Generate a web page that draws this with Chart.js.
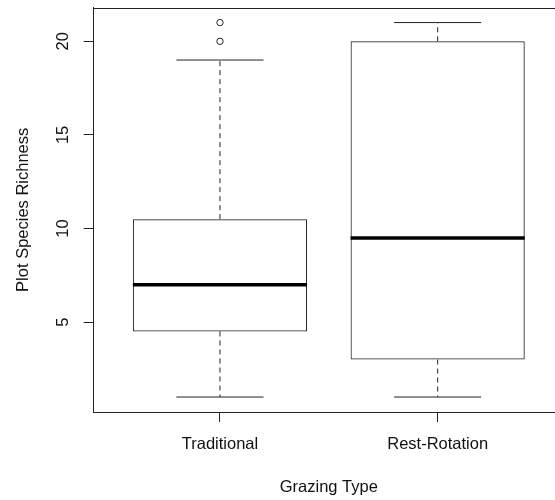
<!DOCTYPE html>
<html><head><meta charset="utf-8">
<script src="https://cdn.jsdelivr.net/npm/chart.js@4.4.1/dist/chart.umd.min.js"></script>
<style>html,body{margin:0;padding:0;background:#fff;overflow:hidden}#wrap{width:555px;height:500px;position:relative}</style>
</head><body><div id="wrap"><canvas id="c" width="555" height="500"></canvas></div>
<script>
const categories = ['Traditional', 'Rest-Rotation'];
const positions = [1, 2];
const whiskerLow = [1, 1];
const q1 = [4.5, 3];
const medians = [7, 9.5];
const q3 = [10.5, 20];
const whiskerHigh = [19, 21];
const outliers = [[20, 21], []];
const yTicks = [5, 10, 15, 20];
const xTitle = 'Grazing Type';
const yTitle = 'Plot Species Richness';

const FONT = '16.5px "Liberation Sans", Arial, sans-serif';
const LINE = '#222';

const boxPlugin = {
  id: 'boxExtras',
  afterDatasetsDraw(chart) {
    const ctx = chart.ctx, xs = chart.scales.x, ys = chart.scales.y;
    ctx.save();
    positions.forEach((p, i) => {
      const cx = xs.getPixelForValue(p);
      const capHalf = xs.getPixelForValue(p + 0.2) - cx;
      const boxHalf = xs.getPixelForValue(p + 0.4) - cx;
      ctx.strokeStyle = LINE; ctx.lineWidth = 1; ctx.setLineDash([5, 4]);
      ctx.beginPath();
      ctx.moveTo(cx, ys.getPixelForValue(q3[i])); ctx.lineTo(cx, ys.getPixelForValue(whiskerHigh[i]));
      ctx.moveTo(cx, ys.getPixelForValue(q1[i])); ctx.lineTo(cx, ys.getPixelForValue(whiskerLow[i]));
      ctx.stroke();
      ctx.setLineDash([]);
      ctx.beginPath();
      [whiskerHigh[i], whiskerLow[i]].forEach(v => {
        const y = ys.getPixelForValue(v);
        ctx.moveTo(cx - capHalf, y); ctx.lineTo(cx + capHalf, y);
      });
      ctx.stroke();
      ctx.strokeStyle = '#000'; ctx.lineWidth = 3.5;
      ctx.beginPath();
      const my = ys.getPixelForValue(medians[i]);
      ctx.moveTo(cx - boxHalf, my); ctx.lineTo(cx + boxHalf, my);
      ctx.stroke();
    });
    ctx.restore();
  },
  afterDraw(chart) {
    const ctx = chart.ctx, xs = chart.scales.x, ys = chart.scales.y, a = chart.chartArea;
    ctx.save();
    ctx.strokeStyle = LINE; ctx.lineWidth = 1;
    ctx.beginPath(); ctx.moveTo(a.left, Math.round(a.top) + 0.5); ctx.lineTo(a.right, Math.round(a.top) + 0.5); ctx.stroke();
    ctx.fillStyle = '#111';
    ctx.font = FONT;
    ctx.textBaseline = 'alphabetic';
    ctx.textAlign = 'center';
    positions.forEach((p, i) => {
      ctx.fillText(categories[i], xs.getPixelForValue(p), 448.5);
    });
    ctx.fillText(xTitle, xs.getPixelForValue(1.5), 492);
    yTicks.forEach(v => {
      ctx.save();
      ctx.translate(67.5, ys.getPixelForValue(v));
      ctx.rotate(-Math.PI / 2);
      ctx.fillText(String(v), 0, 0);
      ctx.restore();
    });
    ctx.save();
    ctx.translate(27.5, (a.top + a.bottom) / 2);
    ctx.rotate(-Math.PI / 2);
    ctx.fillText(yTitle, 0, 0);
    ctx.restore();
    ctx.restore();
  }
};

const outlierPoints = [];
outliers.forEach((arr, i) => arr.forEach(v => outlierPoints.push({ x: positions[i], y: v })));

new Chart(document.getElementById('c'), {
  type: 'bar',
  data: {
    datasets: [
      {
        type: 'bar',
        data: positions.map((p, i) => ({ x: p, y: [q1[i], q3[i]] })),
        backgroundColor: 'rgba(0,0,0,0)',
        borderColor: LINE,
        borderWidth: 1,
        borderSkipped: false,
        barPercentage: 0.8,
        categoryPercentage: 1.0
      },
      {
        type: 'scatter',
        data: outlierPoints,
        pointStyle: 'circle',
        pointRadius: 3.2,
        pointBackgroundColor: '#fff',
        pointBorderColor: LINE,
        pointBorderWidth: 1
      }
    ]
  },
  options: {
    responsive: false,
    animation: false,
    layout: { autoPadding: false, padding: { top: 7.6, left: 0, right: 0, bottom: 0 } },
    plugins: { legend: { display: false }, tooltip: { enabled: false } },
    scales: {
      x: {
        type: 'linear', min: 0.42, max: 2.539, offset: false,
        afterBuildTicks: s => { s.ticks = positions.map(v => ({ value: v })); },
        afterFit: s => { s.height = 88; },
        ticks: { display: false },
        grid: { display: true, offset: false, drawOnChartArea: false, drawTicks: true, tickLength: 10, color: LINE, lineWidth: 1 },
        border: { display: true, color: LINE, width: 1 }
      },
      y: {
        type: 'linear', min: 0.2, max: 21.8,
        afterBuildTicks: s => { s.ticks = yTicks.map(v => ({ value: v })); },
        afterFit: s => { s.width = 93.7; },
        ticks: { display: false },
        grid: { display: true, offset: false, drawOnChartArea: false, drawTicks: true, tickLength: 10, color: LINE, lineWidth: 1 },
        border: { display: true, color: LINE, width: 1 }
      }
    }
  },
  plugins: [boxPlugin]
});
</script>
</body></html>
